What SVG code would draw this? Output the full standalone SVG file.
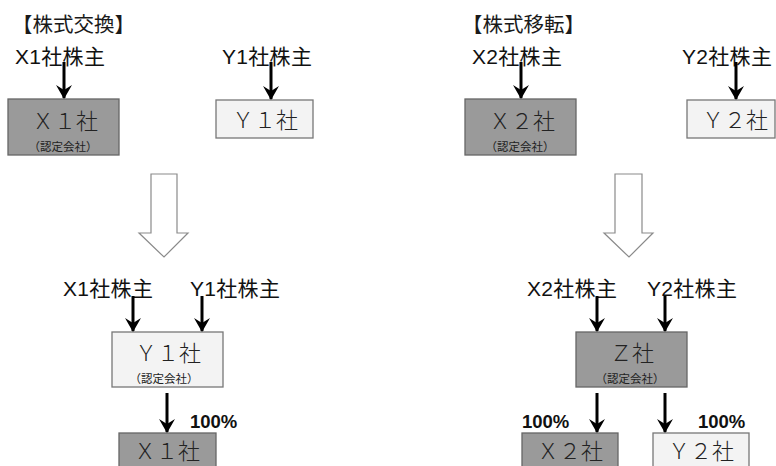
<svg xmlns="http://www.w3.org/2000/svg" width="776" height="466" viewBox="0 0 776 466">
<defs>
<style>
.title{font-family:"Noto Sans CJK JP","Noto Sans",sans-serif;font-size:20.5px;fill:#1a1a1a}
.lbl{font-family:"Liberation Sans","Noto Sans CJK JP",sans-serif;font-size:21px;letter-spacing:0.3px;fill:#111}
.pct{font-family:"Liberation Sans",Arial,sans-serif;font-size:18.5px;font-weight:bold;fill:#111}
.name{font-family:"Noto Sans CJK JP",serif;font-size:22px;font-weight:300;fill:#222;text-anchor:middle}
.sub{font-family:"Noto Sans CJK JP",sans-serif;font-size:11.5px;fill:#222;text-anchor:middle}
.dark{fill:#9a9a9a;stroke:#666;stroke-width:1.3}
.light{fill:#f3f3f3;stroke:#777;stroke-width:1.3}
.conn line{stroke:#000;stroke-width:3;marker-end:url(#ah)}
.big{fill:#fff;stroke:#8a8a8a;stroke-width:1.2}
</style>
<marker id="ah" viewBox="0 0 14 16" refX="13" refY="8" markerWidth="14" markerHeight="16" markerUnits="userSpaceOnUse" orient="auto">
<path d="M0,0 L14,8 L0,16 L5,8 Z" fill="#000"/>
</marker>
</defs>
<rect width="776" height="466" fill="#fff"/>

<text class="title" x="12" y="32">【株式交換】</text>
<text class="title" x="462" y="32">【株式移転】</text>

<g id="x1-holders-top"><text class="lbl" x="15" y="64">X1社株主</text></g>
<g id="y1-holders-top"><text class="lbl" x="222" y="64">Y1社株主</text></g>
<g id="x1-top"><rect class="dark" x="8" y="99" width="111" height="56"/><text class="name" x="65" y="129">Ｘ１社</text><text class="sub" x="63" y="151">（認定会社）</text></g>
<g id="y1-top"><rect class="light" x="216" y="100" width="97" height="38"/><text class="name" x="265" y="128">Ｙ１社</text></g>

<g id="x2-holders-top"><text class="lbl" x="472" y="64">X2社株主</text></g>
<g id="y2-holders-top"><text class="lbl" x="682" y="64">Y2社株主</text></g>
<g id="x2-top"><rect class="dark" x="465" y="99" width="111" height="56"/><text class="name" x="522" y="129">Ｘ２社</text><text class="sub" x="520" y="151">（認定会社）</text></g>
<g id="y2-top"><rect class="light" x="687" y="100" width="88" height="38"/><text class="name" x="735" y="128">Ｙ２社</text></g>

<g id="transition-left"><path class="big" d="M151,174 H177 V233 H188 L164,257 L139,233 H151 Z"/></g>
<g id="transition-right"><path class="big" d="M615,174 H642 V233 H653 L629,257 L604,233 H615 Z"/></g>

<g id="x1-holders-bottom"><text class="lbl" x="63" y="296">X1社株主</text></g>
<g id="y1-holders-bottom"><text class="lbl" x="190" y="296">Y1社株主</text></g>
<g id="y1-bottom"><rect class="light" x="112" y="332" width="111" height="55"/><text class="name" x="168" y="361">Ｙ１社</text><text class="sub" x="164" y="382.5">（認定会社）</text></g>
<g id="x1-bottom"><rect class="dark" x="119" y="433" width="97" height="40"/><text class="name" x="167" y="459">Ｘ１社</text></g>
<text class="pct" x="190" y="428">100%</text>

<g id="x2-holders-bottom"><text class="lbl" x="527" y="296">X2社株主</text></g>
<g id="y2-holders-bottom"><text class="lbl" x="647" y="296">Y2社株主</text></g>
<g id="z"><rect class="dark" x="576" y="332" width="111" height="55"/><text class="name" x="632" y="361">Ｚ社</text><text class="sub" x="630" y="382.5">（認定会社）</text></g>
<g id="x2-bottom"><rect class="dark" x="522" y="433" width="96" height="40"/><text class="name" x="570" y="459">Ｘ２社</text></g>
<g id="y2-bottom"><rect class="light" x="653" y="433" width="96" height="40"/><text class="name" x="701" y="459">Ｙ２社</text></g>
<text class="pct" x="522" y="428">100%</text>
<text class="pct" x="698" y="428">100%</text>

<g id="connectors" class="conn">
<line x1="64" y1="62" x2="64" y2="98"/>
<line x1="271" y1="62" x2="271" y2="99"/>
<line x1="521" y1="62" x2="521" y2="98"/>
<line x1="736" y1="62" x2="736" y2="99"/>
<line x1="133" y1="296" x2="133" y2="331"/>
<line x1="202" y1="296" x2="202" y2="331"/>
<line x1="167" y1="393" x2="167" y2="432"/>
<line x1="597" y1="296" x2="597" y2="331"/>
<line x1="665" y1="296" x2="665" y2="331"/>
<line x1="597" y1="393" x2="597" y2="432"/>
<line x1="665" y1="393" x2="665" y2="432"/>
</g>
</svg>
